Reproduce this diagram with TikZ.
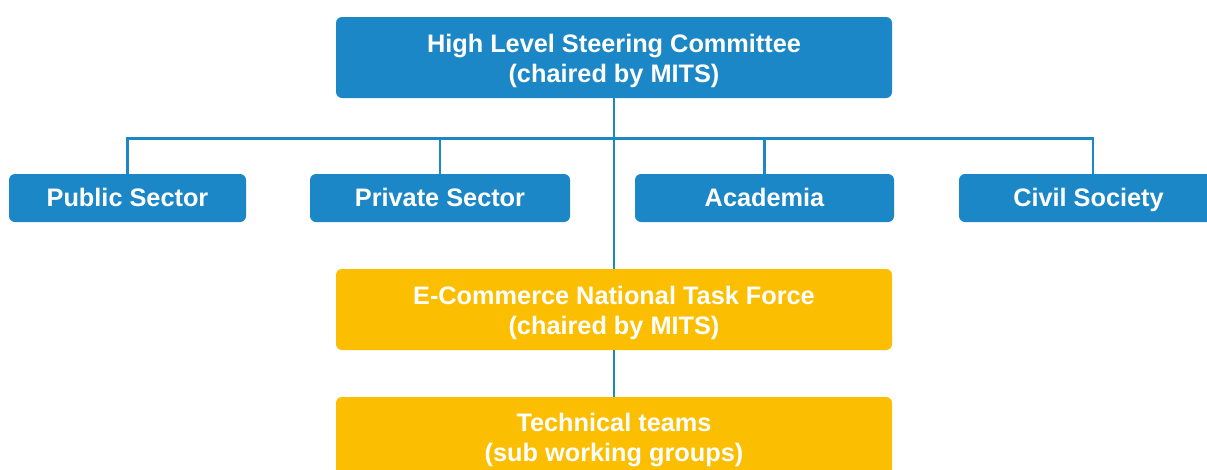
\documentclass[tikz,border=0pt]{standalone}
\usepackage{fontspec}
\setmainfont{Liberation Sans}
\definecolor{boxblue}{HTML}{1B87C6}
\definecolor{boxyellow}{HTML}{FBBE00}
\tikzset{
  bigbox/.style={rectangle, rounded corners=6pt, draw=none, minimum width=556pt, minimum height=81pt,
    inner sep=0pt},
  bluebig/.style={bigbox, fill=boxblue},
  yellowbig/.style={bigbox, fill=boxyellow},
  bigtext/.style={inner sep=0pt, text=white, align=center, font=\fontsize{25.3}{30}\selectfont\bfseries},
  sectorbox/.style={rectangle, rounded corners=6pt, fill=boxblue, draw=none, minimum height=48pt,
    inner sep=0pt, text=white, text height=18.5pt, text depth=2pt, font=\fontsize{25.3}{30}\selectfont\bfseries},
  link/.style={draw=boxblue, line width=2.2pt}
}
\begin{document}
\begin{tikzpicture}[x=1pt,y=-1pt]
\useasboundingbox (0,0) rectangle (1207,469);
\clip (0,0) rectangle (1207,469);
\node[bluebig] (top) at (614,57.5) {};
\node[bigtext] (toptext) at ([yshift=-3pt]top.center) {High Level Steering Committee\\(chaired by MITS)};
\node[sectorbox, minimum width=237pt] (pub) at (127.5,198) {Public Sector};
\node[sectorbox, minimum width=260pt] (priv) at (440,198) {Private Sector};
\node[sectorbox, minimum width=259pt] (acad) at (764.5,198) {Academia};
\node[sectorbox, minimum width=259pt] (civ) at (1088.5,198) {Civil Society};
\node[yellowbig] (ecom) at (614,309.5) {};
\node[bigtext] (ecomtext) at ([yshift=-3pt]ecom.center) {E-Commerce National Task Force\\(chaired by MITS)};
\node[yellowbig] (tech) at (614,437.5) {};
\node[bigtext] (techtext) at ([yshift=-3pt]tech.center) {Technical teams\\(sub working groups)};
\coordinate (bus) at (614,138.5);
\coordinate (civtop) at ([xshift=4.5pt]civ.north);
\draw[link] (top.south) -- (ecom.north);
\draw[link] (ecom.south) -- (tech.north);
\draw[link] (pub.north) |- (bus) -| (civtop);
\draw[link] (priv.north) -- (priv.north |- bus);
\draw[link] (acad.north) -- (acad.north |- bus);
\end{tikzpicture}
\end{document}
